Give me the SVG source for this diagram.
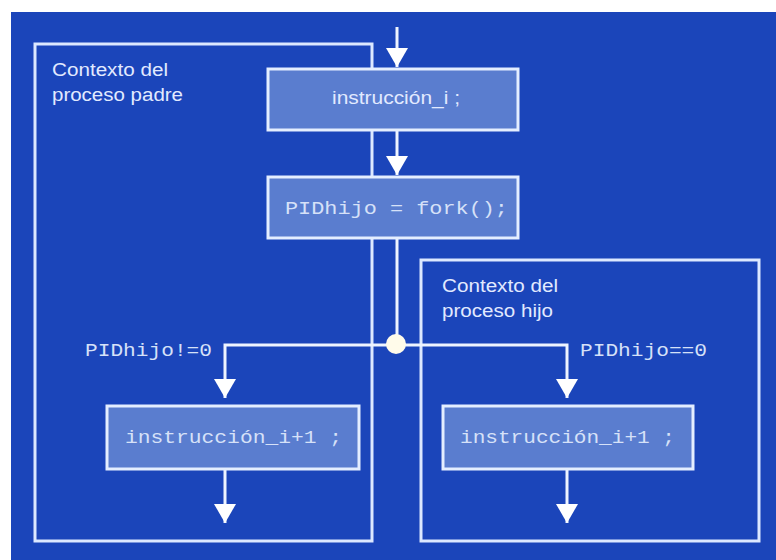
<svg xmlns="http://www.w3.org/2000/svg" width="776" height="560" viewBox="0 0 776 560">
<defs>
<style>
.frame{fill:none;stroke:#dce8ff;stroke-width:3}
.box{fill:#5a7dcf;stroke:#e4eeff;stroke-width:3}
.line{fill:none;stroke:#eef4ff;stroke-width:3}
.mono{font-family:"Liberation Mono","DejaVu Sans Mono",monospace;font-size:19px;fill:#d6e1f8}
.sans{font-family:"Liberation Sans","DejaVu Sans",sans-serif;font-size:18px;fill:#e2eaff}
</style>
<marker id="arr" markerWidth="19" markerHeight="22" refX="19" refY="11" orient="auto" markerUnits="userSpaceOnUse" viewBox="0 0 19 22">
<path d="M0,0 L19,11 L0,22 Z" fill="#ffffff"/>
</marker>
</defs>
<rect x="11" y="12" width="765" height="548" fill="#1b45ba"/>
<g id="ctx-padre">
<rect class="frame" x="35" y="44" width="337" height="497"/>
<text class="sans" x="52" y="76" textLength="116" lengthAdjust="spacingAndGlyphs">Contexto del</text>
<text class="sans" x="52" y="101" textLength="131" lengthAdjust="spacingAndGlyphs">proceso padre</text>
</g>
<g id="ctx-hijo">
<rect class="frame" x="421" y="260" width="338" height="281"/>
<text class="sans" x="442" y="292" textLength="116" lengthAdjust="spacingAndGlyphs">Contexto del</text>
<text class="sans" x="442" y="317" textLength="111" lengthAdjust="spacingAndGlyphs">proceso hijo</text>
</g>
<g id="connectors">
<line class="line" x1="397" y1="27" x2="397" y2="67" marker-end="url(#arr)"/>
<line class="line" x1="397" y1="130" x2="397" y2="175" marker-end="url(#arr)"/>
<line class="line" x1="397" y1="238" x2="397" y2="344"/>
<polyline class="line" points="397,345 225,345 225,398" marker-end="url(#arr)"/>
<polyline class="line" points="397,345 567,345 567,398" marker-end="url(#arr)"/>
<line class="line" x1="225" y1="469" x2="225" y2="523" marker-end="url(#arr)"/>
<line class="line" x1="567" y1="469" x2="567" y2="523" marker-end="url(#arr)"/>
<circle cx="396" cy="344" r="10" fill="#fffbea"/>
<text class="mono" x="85" y="356" textLength="127" lengthAdjust="spacingAndGlyphs">PIDhijo!=0</text>
<text class="mono" x="580" y="356" textLength="127" lengthAdjust="spacingAndGlyphs">PIDhijo==0</text>
</g>
<g id="instr-i">
<rect class="box" x="268" y="69" width="250" height="61"/>
<text class="sans" x="332" y="104" textLength="128" lengthAdjust="spacingAndGlyphs">instrucción_i ;</text>
</g>
<g id="fork">
<rect class="box" x="268" y="177" width="250" height="61"/>
<text class="mono" x="285" y="214" textLength="223" lengthAdjust="spacingAndGlyphs">PIDhijo = fork();</text>
</g>
<g id="instr-padre">
<rect class="box" x="107" y="406" width="252" height="63"/>
<text class="mono" x="125" y="443" textLength="217" lengthAdjust="spacingAndGlyphs">instrucción_i+1 ;</text>
</g>
<g id="instr-hijo">
<rect class="box" x="443" y="406" width="250" height="63"/>
<text class="mono" x="460" y="443" textLength="215" lengthAdjust="spacingAndGlyphs">instrucción_i+1 ;</text>
</g>
</svg>
